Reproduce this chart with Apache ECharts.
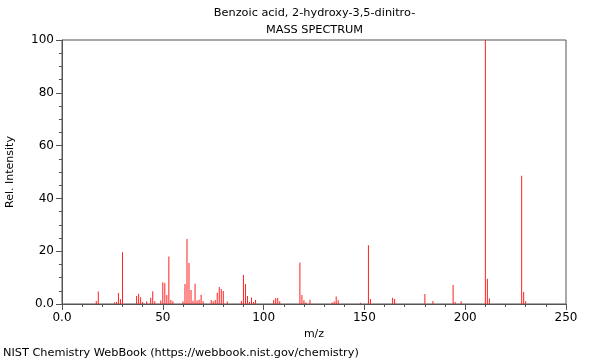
<!DOCTYPE html>
<html><head><meta charset="utf-8">
<script src="https://cdn.jsdelivr.net/npm/echarts@6/dist/echarts.min.js"></script>
<style>html,body{margin:0;padding:0;background:#fff}#c{width:600px;height:360px}</style>
</head><body><div id="c"></div>
<script>
const titleLine1 = "Benzoic acid, 2-hydroxy-3,5-dinitro-";
const titleLine2 = "MASS SPECTRUM";
const xLabel = "m/z";
const yLabel = "Rel. Intensity";
const footer = "NIST Chemistry WebBook (https://webbook.nist.gov/chemistry)";
const mz = [17,18,26,27,28,29,30,37,38,39,40,42,44,45,46,49,50,51,52,53,54,55,60,61,62,63,64,65,66,67,68,69,70,74,75,76,77,78,79,80,82,89,90,91,92,93,94,95,96,105,106,107,108,118,119,120,121,123,134,135,136,137,148,152,153,164,165,180,184,194,195,198,210,211,212,228,229,230];
const intensity = [1.1,4.7,0.6,0.8,4.2,1.8,19.6,3.0,3.8,2.6,0.8,1.0,2.4,4.8,1.0,1.3,8.2,8.0,3.4,18.0,1.5,1.0,0.9,7.6,24.6,15.5,5.3,1.2,7.7,1.3,1.6,3.5,1.0,1.5,1.0,1.5,4.3,6.4,5.7,4.9,0.9,1.1,11.0,7.6,3.0,0.8,2.5,0.8,1.5,1.5,2.3,2.3,1.0,15.7,3.4,1.4,0.6,1.6,0.6,0.9,2.8,1.4,0.5,22.3,1.9,2.4,1.9,3.8,1.1,7.2,0.8,1.0,100,9.6,2.1,48.6,4.5,1.0];
const yTicks = [0,20,40,60,80,100];
const xTicks = [0,50,100,150,200,250];

const chart = echarts.init(document.getElementById('c'));
const font = 'DejaVu Sans';
const fmt = v => v === 0 ? '0.0' : String(v);
chart.setOption({
  animation: false,
  textStyle: {fontFamily: font},
  grid: {left: 62, right: 34, top: 40, bottom: 56, show: true, borderColor: '#555', borderWidth: 1, backgroundColor: 'transparent', containLabel: false, outerBoundsMode: 'none'},
  graphic: [
    {type: 'text', x: 314.5, y: 8, style: {text: titleLine1, font: '11.3px DejaVu Sans', fill: '#000', align: 'center'}},
    {type: 'text', x: 314.5, y: 25, style: {text: titleLine2, font: '11.3px DejaVu Sans', fill: '#000', align: 'center'}},
    {type: 'text', x: 3, y: 348, style: {text: footer, font: '11.3px DejaVu Sans', fill: '#000'}}
  ],
  xAxis: {
    type: 'value', min: xTicks[0], max: xTicks[xTicks.length-1], interval: 50,
    name: xLabel, nameLocation: 'middle', nameGap: 24,
    nameTextStyle: {fontSize: 11, color: '#000', fontFamily: font},
    axisLine: {show: true, lineStyle: {color: '#555'}},
    axisTick: {show: true, length: 6, lineStyle: {color: '#555'}},
    minorTick: {show: true, splitNumber: 5, length: 3, lineStyle: {color: '#555'}},
    axisLabel: {fontSize: 12, color: '#000', margin: 8, formatter: fmt, fontFamily: font},
    splitLine: {show: false}
  },
  yAxis: {
    type: 'value', min: yTicks[0], max: yTicks[yTicks.length-1], interval: 20,
    name: yLabel, nameLocation: 'middle', nameGap: 46,
    nameTextStyle: {fontSize: 11, color: '#000', fontFamily: font},
    axisLine: {show: true, lineStyle: {color: '#555'}},
    axisTick: {show: true, length: 6, lineStyle: {color: '#555'}},
    minorTick: {show: true, splitNumber: 4, length: 3, lineStyle: {color: '#555'}},
    axisLabel: {fontSize: 12, color: '#000', margin: 8, formatter: fmt, fontFamily: font},
    splitLine: {show: false}
  },
  series: [{
    type: 'bar', barWidth: 1, barGap: '-100%',
    itemStyle: {color: '#ff2020'},
    data: mz.map((m, i) => [m, intensity[i]])
  }]
});
</script></body></html>
